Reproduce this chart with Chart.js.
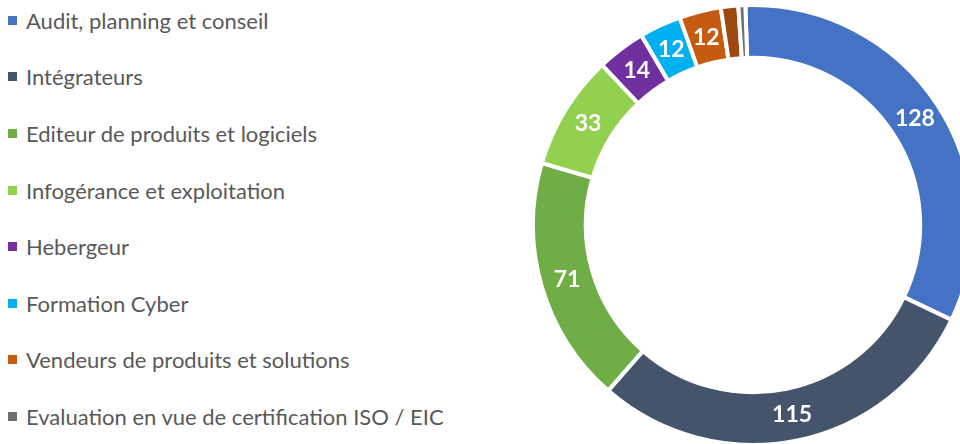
<!DOCTYPE html>
<html lang="fr">
<head>
<meta charset="utf-8">
<title>Répartition</title>
<script src="https://cdn.jsdelivr.net/npm/chart.js@4"></script>
<style>
  html, body { margin: 0; padding: 0; background: #fff; }
  body { width: 960px; height: 444px; overflow: hidden; position: relative; }
  #chartBox { position: absolute; left: 528px; top: 0; width: 450px; height: 450px; }
  #legend { position: absolute; left: 8px; top: -8px; margin: 0; padding: 0; list-style: none; }
  #legend li {
    height: 56.6px; display: flex; align-items: center;
    font-family: Lato, "Open Sans", sans-serif; font-size: 22px; color: #595959; white-space: nowrap;
  }
  #legend li span.box { width: 9px; height: 9px; margin-right: 9px; flex: none; }
</style>
</head>
<body>
<ul id="legend"></ul>
<div id="chartBox"><canvas id="donut"></canvas></div>
<script>
// categories (the brown slice has no visible legend entry)
const categories = [
  "Audit, planning et conseil",
  "Intégrateurs",
  "Editeur de produits et logiciels",
  "Infogérance et exploitation",
  "Hebergeur",
  "Formation Cyber",
  "Vendeurs de produits et solutions",
  "",
  "Evaluation en vue de certification ISO / EIC"
];
const counts = [128, 115, 71, 33, 14, 12, 12, 5, 2];
const sliceColors = [
  "#4472C4", "#44546A", "#70AD47", "#92D050", "#7030A0",
  "#00B0F0", "#C55A11", "#9C480E", "#6F6F6F"
];
const minLabelValue = 10;

// draws the value inside each slice
const valueLabels = {
  id: "valueLabels",
  afterDatasetsDraw(chart) {
    const ctx = chart.ctx;
    const meta = chart.getDatasetMeta(0);
    ctx.save();
    ctx.fillStyle = "#fff";
    ctx.font = "bold 23px Lato, 'Open Sans', sans-serif";
    ctx.textAlign = "center";
    ctx.textBaseline = "middle";
    meta.data.forEach((arc, i) => {
      const v = chart.data.datasets[0].data[i];
      if (v < minLabelValue) return;
      const p = arc.tooltipPosition();
      ctx.fillText(String(v), p.x, p.y);
    });
    ctx.restore();
  }
};

// legend as html list, built from the chart's own legend items
const htmlLegend = {
  id: "htmlLegend",
  afterUpdate(chart) {
    const ul = document.getElementById("legend");
    ul.innerHTML = "";
    const items = chart.options.plugins.legend.labels.generateLabels(chart);
    items.filter(it => it.text).forEach(it => {
      const li = document.createElement("li");
      const box = document.createElement("span");
      box.className = "box";
      box.style.background = it.fillStyle;
      li.appendChild(box);
      li.appendChild(document.createTextNode(it.text));
      ul.appendChild(li);
    });
  }
};

new Chart(document.getElementById("donut"), {
  type: "doughnut",
  data: {
    labels: categories,
    datasets: [{
      data: counts,
      backgroundColor: sliceColors,
      borderColor: "#fff",
      borderWidth: 4
    }]
  },
  options: {
    responsive: true,
    maintainAspectRatio: false,
    animation: false,
    cutout: "76%",
    rotation: -2,
    layout: { padding: 3 },
    plugins: {
      legend: { display: false },
      tooltip: { enabled: false }
    }
  },
  plugins: [valueLabels, htmlLegend]
});
</script>
</body>
</html>
